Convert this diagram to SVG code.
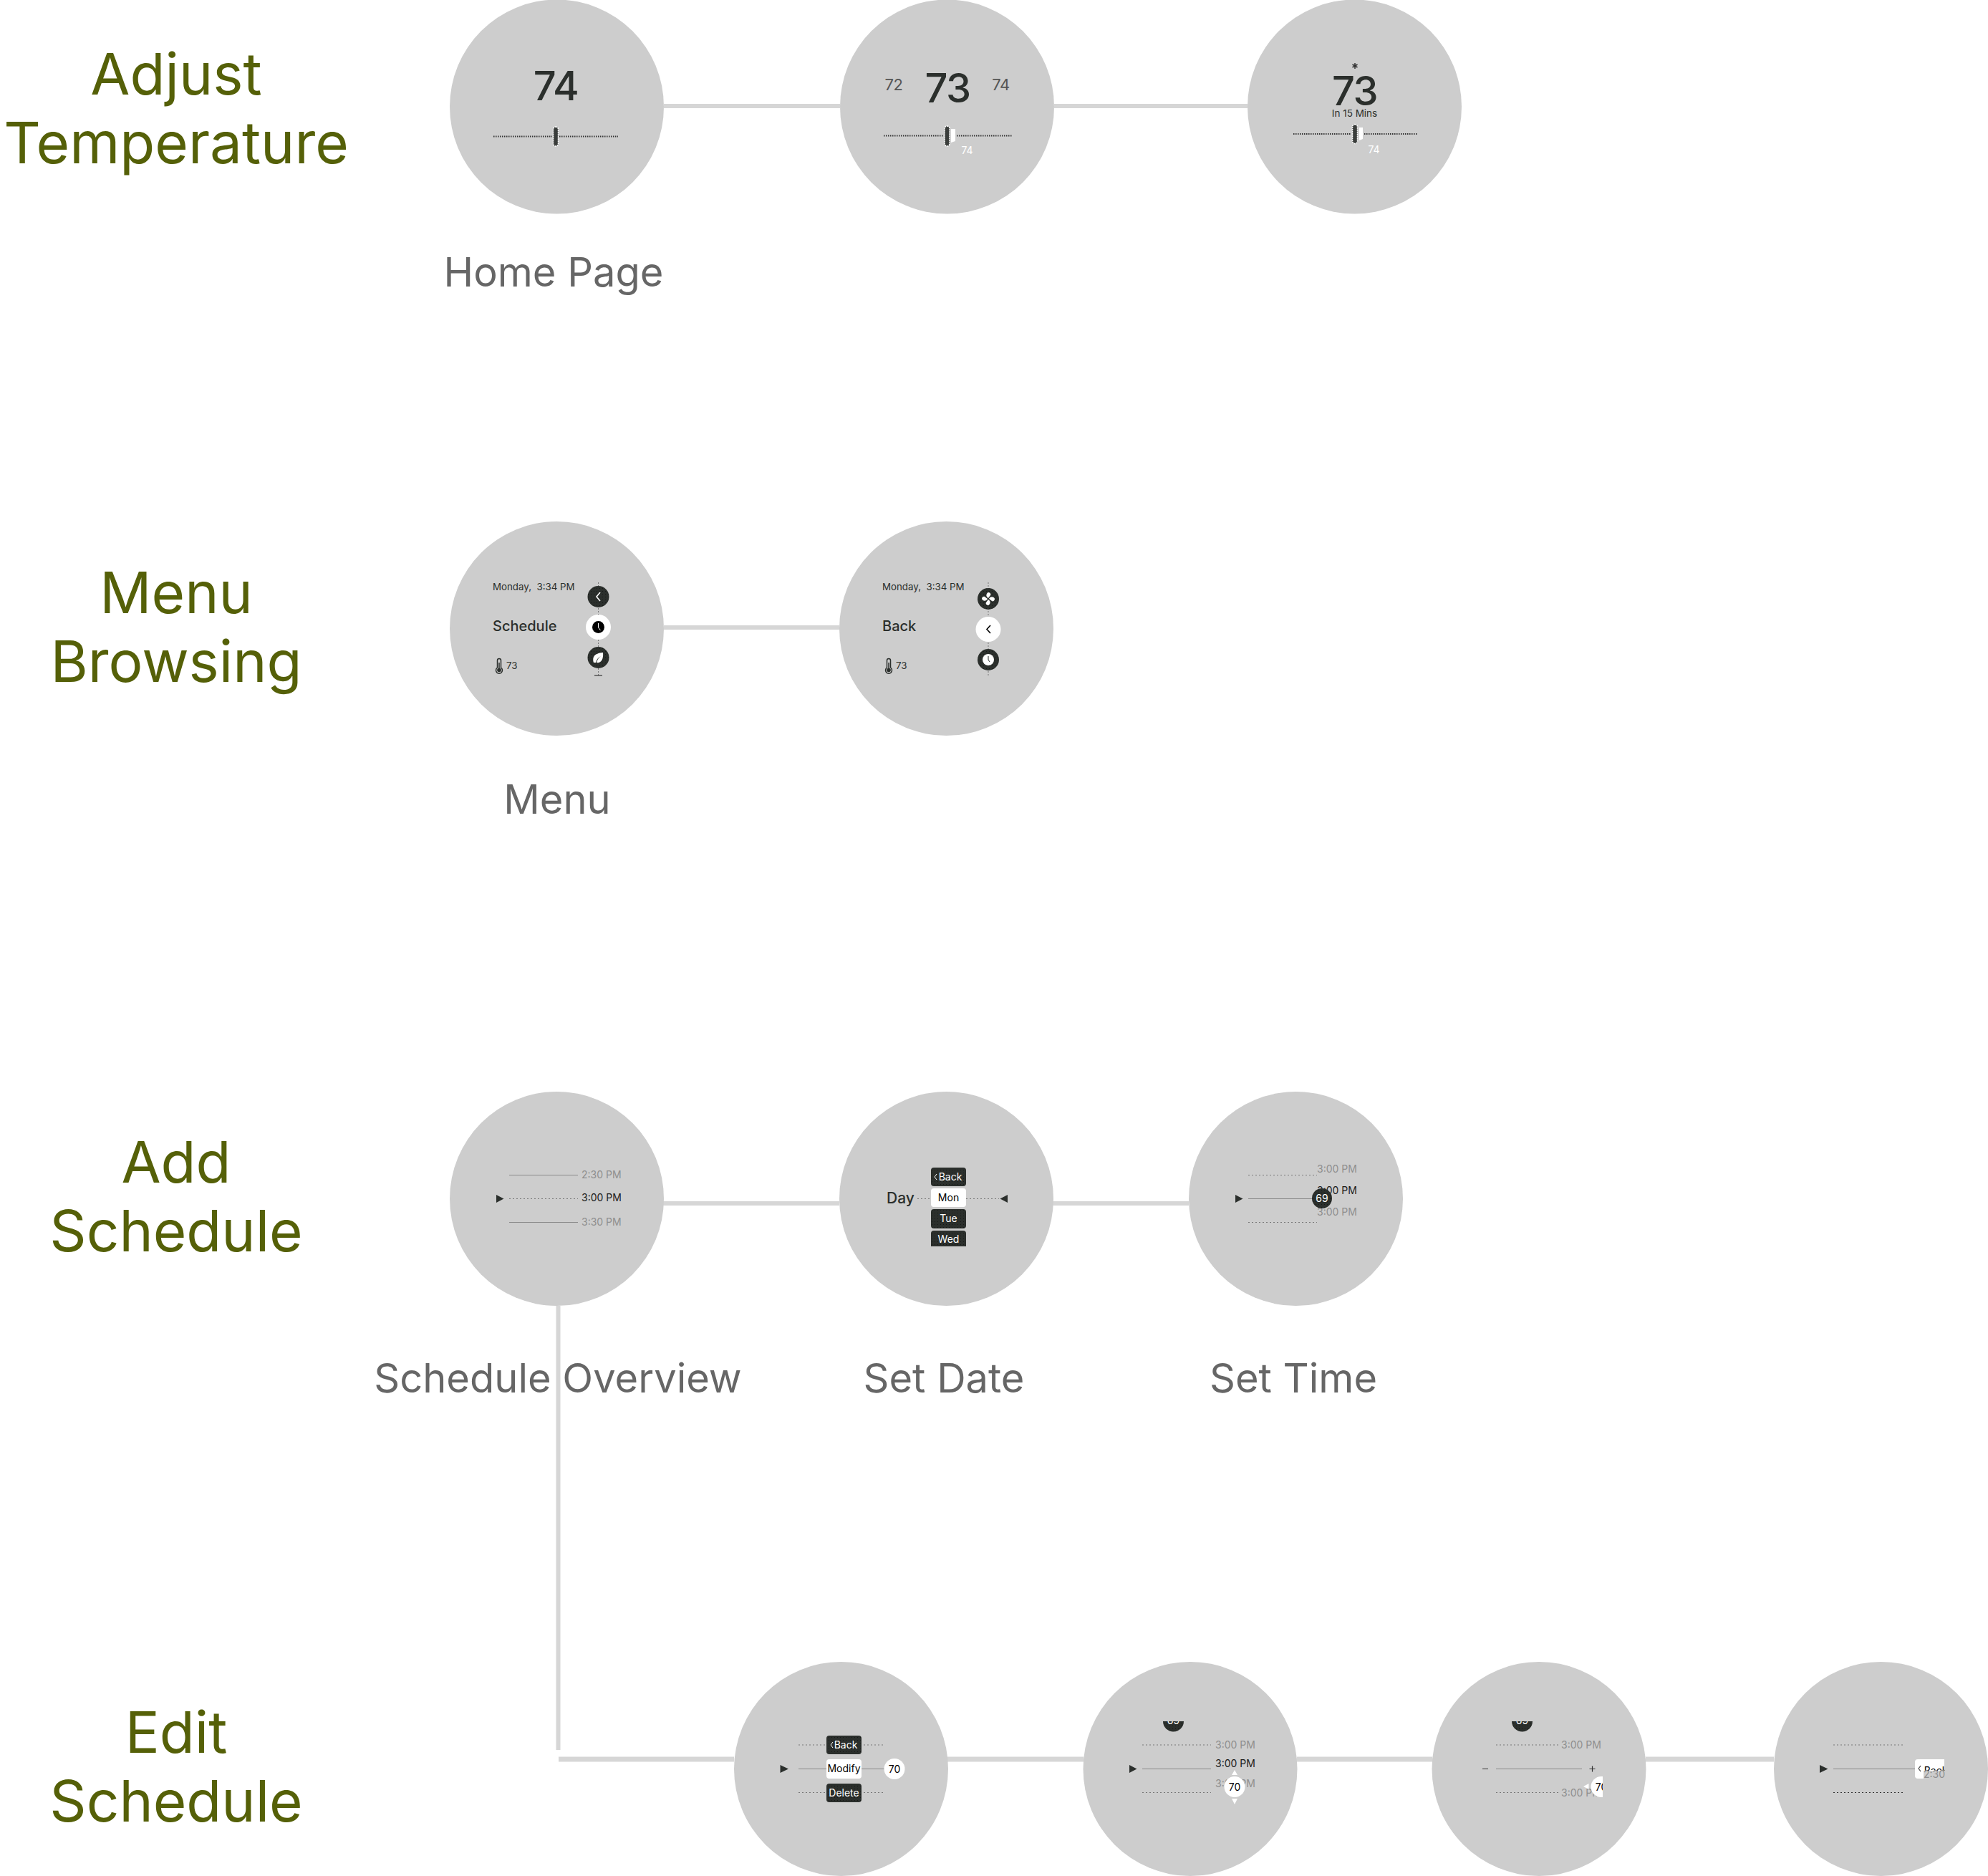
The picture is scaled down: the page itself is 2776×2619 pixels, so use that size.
<svg xmlns="http://www.w3.org/2000/svg" width="2776" height="2619" viewBox="0 0 2776 2619">
<style>
text{font-family:Inter,"Liberation Sans",sans-serif}
.title{font-size:80px;fill:#556008;text-anchor:middle}
.label{font-size:56px;fill:#666;text-anchor:middle}
.face{fill:#cdcdcd}
.conn{fill:none;stroke:#d6d6d6;stroke-width:6}
.slider{stroke:#333;stroke-width:2;stroke-dasharray:1.500 1.500;fill:none}
.dot{stroke:#777;stroke-width:1;stroke-dasharray:2 3;fill:none}
.solid{stroke:#8a8a8a;stroke-width:1;fill:none}
.vdot{stroke:#777;stroke-width:1;stroke-dasharray:2 2;fill:none}
.knob{fill:#3a3d3b;stroke:#fff;stroke-width:1.500;stroke-dasharray:2 1}
.big{font-size:56px;font-weight:500;letter-spacing:-1.500px;fill:#2b2f2c;text-anchor:middle}
.side{font-size:22px;fill:#555;text-anchor:middle;letter-spacing:-.5px}
.tiny{font-size:14px;fill:#fff;text-anchor:middle}
.small{font-size:13.300px;fill:#2b2f2c}
.mid{font-size:20px;font-weight:500;fill:#2b2f2c}
.time{font-size:14px;fill:#8f8f8f}
.now{font-size:14px;fill:#1c1c1c}
.dark{fill:url(#dots)}
.wt{fill:#fff}
.tri{fill:#2b2f2c}
.bt{font-size:14px;fill:#fff;text-anchor:middle}
.bk{font-size:14px;fill:#000;text-anchor:middle}
.ic{fill:none;stroke:#fff;stroke-width:1.600}
.ick{fill:none;stroke:#000;stroke-width:1.600}
</style>
<defs>
<pattern id="dots" width="4" height="4" patternUnits="userSpaceOnUse"><rect width="4" height="4" fill="#2b2f2c"/><rect x="1" y="1" width="1" height="1" fill="#171917"/></pattern>
<clipPath id="c69a"><rect x="1610" y="2403" width="60" height="20"/></clipPath>
<clipPath id="c69b"><rect x="2095" y="2403" width="60" height="20"/></clipPath>
<clipPath id="c70"><rect x="2205" y="2470" width="33" height="50"/></clipPath>
<clipPath id="cbk"><rect x="2670" y="2450" width="45.500" height="22"/></clipPath>
<clipPath id="cwed"><rect x="1295" y="1715" width="60" height="25"/></clipPath>
<g id="therm"><path d="M-2.500 0a2.500 2.500 0 0 1 5 0v10a4.500 4.500 0 1 1-5 0z" fill="none" stroke="#2b2f2c" stroke-width="1.500"/><circle cy="13.500" r="2.800" fill="#2b2f2c"/><path d="M0 3v10" stroke="#2b2f2c" stroke-width="1.500"/></g>
</defs>

<g id="connectors">
<path class="conn" d="M927 148H1173M1472 148H1742"/>
<path class="conn" d="M927 876H1172"/>
<path class="conn" d="M926 1680H1172M1470 1680H1660"/>
<path class="conn" d="M779.500 1823V2443"/>
<path class="conn" style="stroke-width:7" d="M780 2456H1025M1323 2456H1513M1811 2456H2000M2298 2456H2477"/>
</g>

<g id="titles">
<text class="title" x="246" y="132">Adjust</text>
<text class="title" x="246" y="228">Temperature</text>
<text class="title" x="246" y="856">Menu</text>
<text class="title" x="246" y="952">Browsing</text>
<text class="title" x="246" y="1651">Add</text>
<text class="title" x="246" y="1747">Schedule</text>
<text class="title" x="246" y="2447">Edit</text>
<text class="title" x="246" y="2543">Schedule</text>
</g>
<g id="labels">
<text class="label" x="773" y="400">Home Page</text>
<text class="label" x="778" y="1136">Menu</text>
<text class="label" x="779" y="1944">Schedule Overview</text>
<text class="label" x="1318" y="1944">Set Date</text>
<text class="label" x="1806" y="1944">Set Time</text>
</g>

<g id="node-home">
<circle class="face" cx="777.500" cy="149" r="149.500"/>
<text class="big" x="776" y="140">74</text>
<path class="slider" d="M689 190.500H771M781 190.500H863"/>
<rect class="knob" x="772.500" y="177" width="7" height="27" rx="3.500"/>
</g>
<g id="node-adjust">
<circle class="face" cx="1322.500" cy="149" r="149.500"/>
<text class="big" x="1323" y="143">73</text>
<text class="side" x="1248" y="126">72</text>
<text class="side" x="1397.500" y="126">74</text>
<path class="slider" d="M1234 189.500H1317M1336 189.500H1412.500"/>
<rect class="knob" x="1319" y="176" width="7" height="28" rx="3.500"/>
<path class="wt" d="M1328 180h6v17l-6 2z"/>
<text class="tiny" x="1350.500" y="215">74</text>
</g>
<g id="node-confirm">
<circle class="face" cx="1891.500" cy="149" r="149.500"/>
<path d="M1892 88v8M1888.500 90l7 4M1895.500 90l-7 4" stroke="#333" stroke-width="1.500"/>
<text class="big" x="1891.500" y="147">73</text>
<text x="1891.500" y="163" font-size="13.500" fill="#2b2f2c" text-anchor="middle">In 15 Mins</text>
<path class="slider" d="M1806 187H1887M1905 187H1979"/>
<rect class="knob" x="1888.500" y="173.500" width="7" height="27" rx="3.500"/>
<path class="wt" d="M1898 178h5v16l-5 2z"/>
<text class="tiny" x="1918.500" y="214">74</text>
</g>

<g id="node-menu">
<circle class="face" cx="777.500" cy="877.500" r="149.500"/>
<text class="small" x="688" y="823.500">Monday,&#160; 3:34 PM</text>
<text class="mid" x="688" y="881">Schedule</text>
<path class="vdot" d="M835.500 813V943"/>
<path d="M830 943h11" stroke="#333" stroke-width="1.200"/>
<circle class="dark" cx="835.500" cy="833" r="15"/>
<path class="ic" d="M838 827l-5 6 5 6"/>
<circle class="wt" cx="835.500" cy="875.500" r="17.500"/>
<circle cx="835.500" cy="875.500" r="8.500" fill="#000"/>
<path d="M835.500 870v6l3 4" fill="none" stroke="#fff" stroke-width="1"/>
<circle class="dark" cx="835.500" cy="918" r="15"/>
<path class="wt" d="M829 925c-2-7 0-13 13-14c1 10-3 15-9 14c1-4 3-7 6-9c-4 2-6 5-7 9z"/>
<use href="#therm" x="697" y="922"/>
<text class="small" x="707" y="934">73</text>
</g>
<g id="node-menu-back">
<circle class="face" cx="1321.500" cy="877.500" r="149.500"/>
<text class="small" x="1232" y="823.500">Monday,&#160; 3:34 PM</text>
<text class="mid" x="1232" y="881">Back</text>
<path class="vdot" d="M1380 813V943"/>
<circle class="dark" cx="1380" cy="836" r="15"/>
<path class="wt" d="M1380 835c-4-2-3-7 0-8c3 0 4 3 3 4zM1381 836c2-4 7-3 8 0c0 3-3 4-4 3zM1380 837c4 2 3 7 0 8c-3 0-4-3-3-4zM1379 836c-2 4-7 3-8 0c0-3 3-4 4-3z"/>
<circle class="wt" cx="1380" cy="878.500" r="17.500"/>
<path class="ick" d="M1383 873l-5 5.500 5 5.500"/>
<circle class="dark" cx="1380" cy="921" r="15"/>
<circle class="wt" cx="1380" cy="921" r="8"/>
<path d="M1380 916v5l2 3" fill="none" stroke="#2b2f2c" stroke-width="1"/>
<use href="#therm" x="1241" y="922"/>
<text class="small" x="1251" y="934">73</text>
</g>

<g id="node-schedule-overview">
<circle class="face" cx="777.500" cy="1673.500" r="149.500"/>
<path class="tri" d="M693 1668l10.500 5.500-10.500 5.500z"/>
<path class="solid" d="M711 1640.500H807M711 1706.500H807"/>
<path class="dot" d="M711 1673.500H807"/>
<text class="time" x="812" y="1645">2:30 PM</text>
<text class="now" x="812" y="1677">3:00 PM</text>
<text class="time" x="812" y="1710.500">3:30 PM</text>
</g>
<g id="node-set-date">
<circle class="face" cx="1321.500" cy="1673.500" r="149.500"/>
<text x="1238" y="1680" font-size="21" font-weight="500" fill="#2b2f2c">Day</text>
<path class="dot" d="M1281 1673.500H1300M1349 1673.500H1395"/>
<path class="tri" d="M1407 1668l-10.500 5.500 10.500 5.500z"/>
<rect class="dark" x="1300" y="1630" width="49" height="26" rx="4"/>
<text class="bt" x="1327" y="1647.500">Back</text>
<path d="M1308 1639l-3 4 3 4" fill="none" stroke="#fff"/>
<rect class="wt" x="1300" y="1659" width="49" height="26" rx="4"/>
<text class="bk" x="1324.500" y="1676.500">Mon</text>
<rect class="dark" x="1300" y="1688" width="49" height="27" rx="4"/>
<text class="bt" x="1324.500" y="1705.500">Tue</text>
<g clip-path="url(#cwed)"><rect class="dark" x="1300" y="1718" width="49" height="27" rx="4"/><text class="bt" x="1324.500" y="1734.500">Wed</text></g>
</g>
<g id="node-set-time">
<circle class="face" cx="1809.500" cy="1673.500" r="149.500"/>
<path class="tri" d="M1725 1668l10.500 5.500-10.500 5.500z"/>
<path class="dot" d="M1743 1640.500H1839M1743 1706.500H1839"/>
<path class="solid" d="M1743 1673.500H1839"/>
<text class="time" x="1839" y="1637">3:00 PM</text>
<text class="now" x="1839" y="1666.500">3:00 PM</text>
<text class="time" x="1839" y="1696.500">3:00 PM</text>
<circle class="dark" cx="1846" cy="1673" r="14"/>
<text class="bt" x="1846" y="1678">69</text>
</g>

<g id="node-modify">
<circle class="face" cx="1174.500" cy="2469.500" r="149.500"/>
<path class="tri" d="M1089.500 2464l11.500 5.500-11.500 5.500z"/>
<path class="dot" d="M1115 2436H1154M1206 2436H1235M1115 2502.500H1154M1206 2502.500H1235"/>
<path class="solid" d="M1115 2469.500H1154M1203 2469.500H1235"/>
<rect class="dark" x="1154" y="2423" width="49" height="26" rx="4"/>
<text class="bt" x="1181" y="2440.500">Back</text>
<path d="M1163 2432l-3 4 3 4" fill="none" stroke="#fff"/>
<rect class="wt" x="1154" y="2456" width="49" height="27" rx="4"/>
<text class="bk" x="1178.500" y="2474">Modify</text>
<rect class="dark" x="1154" y="2490" width="49" height="26" rx="4"/>
<text class="bt" x="1178.500" y="2507.500">Delete</text>
<circle class="wt" cx="1249" cy="2469.500" r="14.500"/>
<text class="bk" x="1249" y="2474.500">70</text>
</g>
<g id="node-temp-pick">
<circle class="face" cx="1662" cy="2469.500" r="149.500"/>
<g clip-path="url(#c69a)"><circle class="dark" cx="1638.500" cy="2403" r="14.500"/><text class="bt" x="1638.500" y="2407">69</text></g>
<path class="tri" d="M1577 2464l10.500 5.500-10.500 5.500z"/>
<path class="dot" d="M1595 2436H1691M1595 2502.500H1691"/>
<path class="solid" d="M1595 2469.500H1691"/>
<text class="time" x="1697" y="2440.500">3:00 PM</text>
<text class="now" x="1697" y="2467">3:00 PM</text>
<text class="time" x="1697" y="2494.500">3:00 PM</text>
<path class="wt" d="M1724 2471l-4 7h8zM1724 2519l-4-8h8z"/>
<circle class="wt" cx="1724" cy="2494.500" r="14.500"/>
<text class="bk" x="1724" y="2499.500">70</text>
</g>
<g id="node-temp-adjust">
<circle class="face" cx="2149" cy="2469.500" r="149.500"/>
<g clip-path="url(#c69b)"><circle class="dark" cx="2125.500" cy="2403" r="14.500"/><text class="bt" x="2125.500" y="2407">69</text></g>
<path class="dot" d="M2089 2436H2178M2089 2502.500H2178"/>
<path class="solid" d="M2089 2469.500H2209"/>
<text class="time" x="2180" y="2440.500">3:00 PM</text>
<text class="time" x="2180" y="2507.500">3:00 PM</text>
<path d="M2070 2469.500h8M2219.500 2469.500h8M2223.500 2465.500v8" stroke="#333" stroke-width="1.200"/>
<path class="wt" d="M2211 2494l7.500-4v8z"/>
<g clip-path="url(#c70)"><circle class="wt" cx="2236" cy="2494.500" r="14.500"/><text class="bk" x="2236" y="2499.500">70</text></g>
</g>
<g id="node-time-back">
<circle class="face" cx="2626.500" cy="2469.500" r="149.500"/>
<path class="tri" d="M2541 2464l11.500 5.500-11.500 5.500z"/>
<path class="dot" d="M2560 2436H2657"/>
<path class="solid" d="M2560 2469.500H2674"/>
<path class="dot" style="stroke:#333" d="M2560 2502.500H2657"/>
<path class="wt" d="M2678 2456H2715V2472H2686V2483H2678a4 4 0 0 1-4-4V2460a4 4 0 0 1 4-4z"/>
<g clip-path="url(#cbk)"><text class="bk" x="2703" y="2477">Back</text></g>
<path d="M2682 2465l-3 4 3 4" fill="none" stroke="#000"/>
<text class="time" x="2686" y="2482">2:30</text>
</g>
</svg>
